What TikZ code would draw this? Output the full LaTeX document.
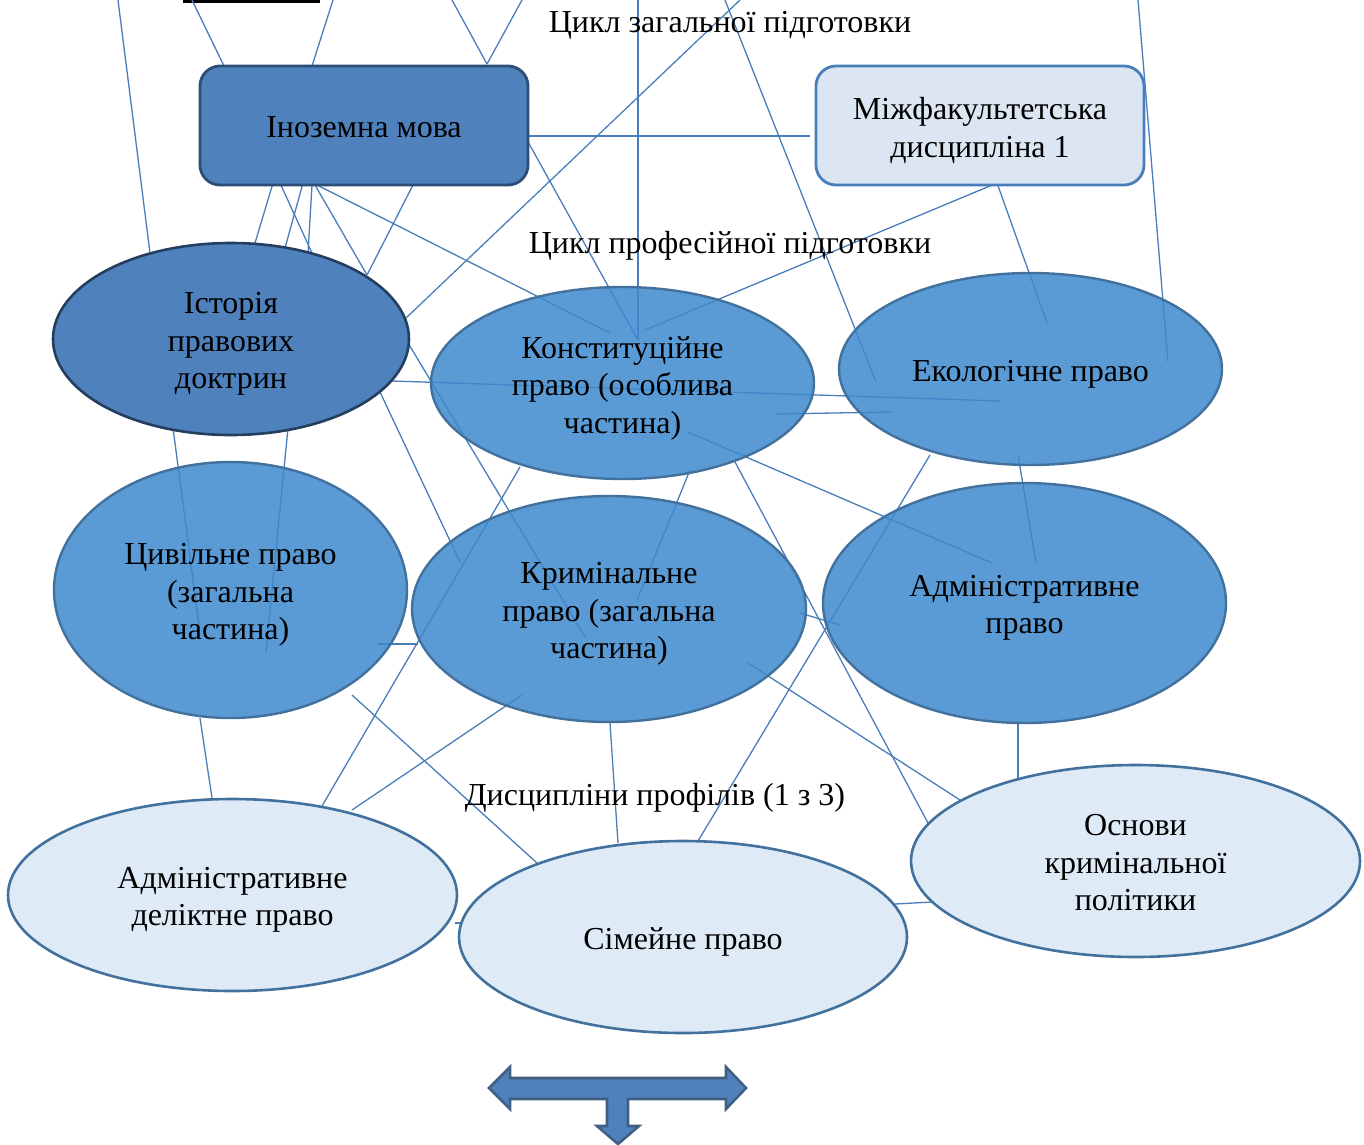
\documentclass[tikz,border=0pt]{standalone}
\usepackage{fontspec}
\setmainfont{Liberation Serif}
\usetikzlibrary{shapes.geometric}

\begin{document}
\begin{tikzpicture}[x=1pt,y=-1pt,
    every node/.style={align=center,inner sep=0pt,font=\fontsize{32}{37.5}\selectfont},
    txt/.style={draw=none,fill=none,fill opacity=1,text opacity=1,yshift=-5pt},
    link/.style={draw=lnk,line width=1.3pt},
    box/.style={rectangle,rounded corners=20pt,minimum width=328pt,minimum height=119pt,line width=2.8pt},
    core/.style={ellipse,draw=bordmid,line width=2.4pt,fill=midblue,fill opacity=0.85},
    prof/.style={ellipse,draw=bordmid,line width=2.6pt,fill=lightblue,minimum width=449pt,minimum height=192pt}]
    \definecolor{lnk}{RGB}{74,126,187}
    \definecolor{darkblue}{RGB}{79,129,189}
    \definecolor{borddark}{RGB}{44,77,117}
    \definecolor{midblue}{RGB}{62,137,206}
    \definecolor{bordmid}{RGB}{65,113,156}
    \definecolor{lightblue}{RGB}{222,235,247}
    \definecolor{boxlight}{RGB}{220,230,242}

    \useasboundingbox (0,0) rectangle (1364,1144);
    \fill (183,0) rectangle (320,3);

    % connectors first, the discipline shapes lie over them
    \foreach \k/\xa/\ya/\xb/\yb in {1/118/0/150/253, 2/192/0/224/66, 3/333/0/312/66,
        4/452/0/487/64, 5/522/0/487/64, 6/527/136/810/136, 7/638/0/638/340,
        8/725/0/876/382, 9/740/0/406/318, 10/527/140/638/340, 11/997/183/645/330,
        12/997/183/1047/323, 13/1138/0/1168/362, 14/392/381/1000/401, 15/776/414/891/412,
        16/273/183/255/243, 17/280/183/312/253, 18/303/183/285/248, 19/312/185/308/253,
        20/315/185/367/275, 21/413/185/367/275, 22/317/185/610/333, 23/408/343/585/637,
        24/380/392/460/562, 25/520/467/322/806, 26/288/428/266/652, 27/173/428/199/625,
        28/200/718/212/798, 29/378/644/418/644, 30/352/695/537/863, 31/352/810/522/695,
        32/610/723/618/843, 33/698/841/930/455, 34/455/923/462/923, 35/895/904/932/902,
        36/1018/723/1018/778, 37/735/462/928/823, 38/748/663/960/800, 39/688/432/992/563,
        40/690/470/637/600, 41/1018/455/1036/563, 42/800/613/840/625} {
        \coordinate (l\k s) at (\xa,\ya);
        \coordinate (l\k e) at (\xb,\yb);
        \draw [link] (l\k s) -- (l\k e);
    }

    \node [box,draw=borddark,fill=darkblue,label={[txt,yshift=3pt]center:Іноземна мова}] (inoz) at (364,125.5) {};
    \node [box,draw=lnk,fill=boxlight,label={[txt]center:{Міжфакультетська\\дисципліна 1}}] (mizh) at (980,125.5) {};

    \node [ellipse,draw=borddark!80!black,line width=2.6pt,fill=darkblue,minimum width=356pt,minimum height=192pt,
        label={[txt]center:{Історія\\правових\\доктрин}}] (ist) at (231,339) {};
    \node [core,minimum width=383pt,minimum height=192pt,label={[txt]center:{Конституційне\\право (особлива\\частина)}}] (konst) at (622.5,383) {};
    \node [core,minimum width=383pt,minimum height=192pt,label={[txt]center:Екологічне право}] (ekol) at (1030.5,369) {};
    \node [core,minimum width=353pt,minimum height=256pt,label={[txt]center:{Цивільне право\\(загальна\\частина)}}] (tsyv) at (230.5,590) {};
    \node [core,minimum width=394pt,minimum height=226pt,label={[txt]center:{Кримінальне\\право (загальна\\частина)}}] (kryn) at (609,609) {};
    \node [core,minimum width=403pt,minimum height=240pt,label={[txt]center:{Адміністративне\\право}}] (adm) at (1024.5,603) {};

    \node [prof,label={[txt]center:{Адміністративне\\деліктне право}}] (delikt) at (232.5,895) {};
    \node [prof,minimum width=448pt,label={[txt]center:Сімейне право}] (simej) at (683,937) {};
    \node [prof,label={[txt,yshift=3pt]center:{Основи\\кримінальної\\політики}}] (osnovy) at (1135.5,861) {};

    \node (zag) at (730,25) {Цикл загальної підготовки};
    \node (profcyc) at (730,246) {Цикл професійної підготовки};
    \node (dysc) at (655,798) {Дисципліни профілів (1 з 3)};

    \draw [line width=2.6pt,draw=borddark!90,fill=darkblue,line join=miter]
        (489,1088) -- (510,1067) -- (510,1078) -- (726,1078) -- (726,1067) -- (746,1088)
        -- (726,1109) -- (726,1099) -- (628,1099) -- (628,1126) -- (639,1126) -- (618,1144)
        -- (597,1126) -- (607,1126) -- (607,1099) -- (510,1099) -- (510,1109) -- cycle;
\end{tikzpicture}
\end{document}
